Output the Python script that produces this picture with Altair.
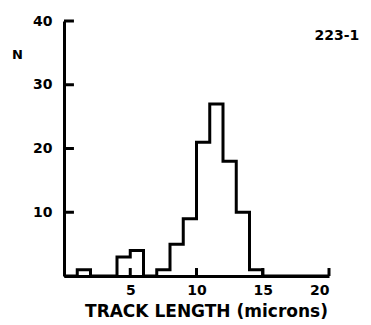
import altair as alt
import pandas as pd

# Histogram of track lengths (1-micron bins, 0..20)
bin_edges = list(range(0, 21))
counts = [0, 1, 0, 0, 3, 4, 0, 1, 5, 9, 21, 27, 18, 10, 1, 0, 0, 0, 0, 0]
x_ticks = [5, 10, 15, 20]
y_ticks = [10, 20, 30, 40]
sample_label = "223-1"

FONT = "DejaVu Sans"

hist = pd.DataFrame({"edge": bin_edges, "n": counts + [0]})
xt = pd.DataFrame({"v": x_ticks, "lo": [0] * len(x_ticks), "hi": [1.25] * len(x_ticks)})
yt = pd.DataFrame({"v": y_ticks, "lo": [0] * len(y_ticks), "hi": [0.75] * len(y_ticks)})
lab = pd.DataFrame({"t": [sample_label], "x": [18.9], "y": [37.0]})

xs = alt.Scale(domain=[0, 20], nice=False, zero=False)
ys = alt.Scale(domain=[0, 40], nice=False)

line = alt.Chart(hist).mark_line(
    interpolate="step-after", color="black", strokeWidth=3, strokeJoin="miter"
).encode(
    x=alt.X("edge:Q", scale=xs, axis=alt.Axis(
        values=x_ticks, ticks=False, grid=False, domainColor="black", domainWidth=3,
        labelFont=FONT, labelFontWeight="bold", labelFontSize=14, labelColor="black",
        labelPadding=7, title="TRACK LENGTH (microns)", titleFont=FONT,
        titleFontWeight="bold", titleFontSize=17, titleColor="black",
        titleX=142, titleY=40, titleBaseline="alphabetic", titleAlign="center")),
    y=alt.Y("n:Q", scale=ys, axis=alt.Axis(
        values=y_ticks, ticks=False, grid=False, domainColor="black", domainWidth=3,
        labelFont=FONT, labelFontWeight="bold", labelFontSize=14, labelColor="black",
        labelPadding=12, title="N", titleFont=FONT, titleFontWeight="bold",
        titleFontSize=13, titleColor="black", titleAngle=0, titleX=-47, titleY=37,
        titleBaseline="alphabetic", titleAlign="center")),
)

ytick_marks = alt.Chart(yt).mark_rule(color="black", strokeWidth=3).encode(
    y=alt.Y("v:Q", scale=ys), x=alt.X("lo:Q", scale=xs), x2="hi:Q"
)
xtick_marks = alt.Chart(xt).mark_rule(color="black", strokeWidth=3).encode(
    x=alt.X("v:Q", scale=xs), y=alt.Y("lo:Q", scale=ys), y2="hi:Q"
)

label = alt.Chart(lab).mark_text(
    font=FONT, fontWeight="bold", fontSize=14, align="left", baseline="alphabetic",
    color="black"
).encode(x=alt.X("x:Q", scale=xs), y=alt.Y("y:Q", scale=ys), text="t:N")

chart = alt.layer(line, ytick_marks, xtick_marks, label).properties(
    width=265, height=255,
    autosize=alt.AutoSizeParams(type="none"),
    padding={"left": 56, "top": 13, "right": 34, "bottom": 45},
).configure(background="white").configure_view(strokeWidth=0)

chart.save("out.html", embed_options={"renderer": "svg", "actions": False})
